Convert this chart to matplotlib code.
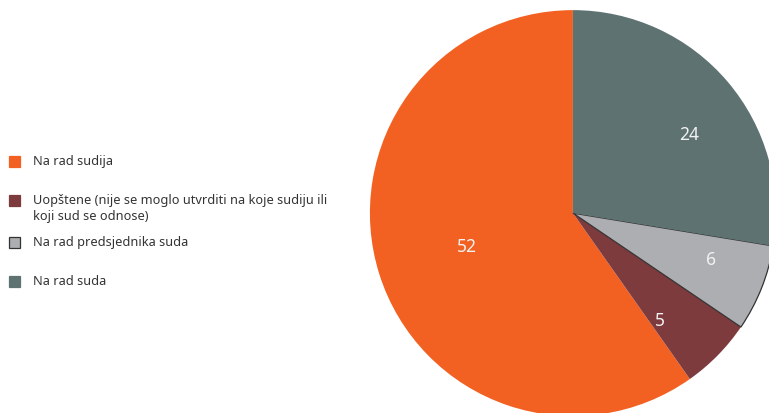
import matplotlib.pyplot as plt
from matplotlib.patches import Rectangle

# data
labels = ['Na rad sudija',
          'Uopštene (nije se moglo utvrditi na koje sudiju ili\nkoji sud se odnose)',
          'Na rad predsjednika suda',
          'Na rad suda']
values = [52, 5, 6, 24]
colors = ['#F26122', '#7E3B3E', '#ADAEB1', '#5F7272']

plt.rcParams['font.family'] = ['Noto Sans', 'DejaVu Sans']

W, H = 769, 413
fig = plt.figure(figsize=(W / 100, H / 100), dpi=100)
ax = fig.add_axes([0.481, -0.0075, 0.528, 0.983])

wedges, texts, autotexts = ax.pie(values, colors=colors, startangle=90, counterclock=True,
                                  autopct=lambda p: '%d' % round(p * sum(values) / 100),
                                  pctdistance=0.7, radius=1,
                                  wedgeprops=dict(linewidth=0))
wedges[2].set_edgecolor('#333333')
wedges[2].set_linewidth(0.9)

# small nudges of the value labels (data units of the pie)
nudge = [(0.0, 0.0), (-0.07, -0.04), (0.03, 0.03), (0.04, -0.07)]
for t, (dx, dy) in zip(autotexts, nudge):
    t.set_color('#f2f2f2')
    t.set_fontsize(12.5)
    t.set_fontweight('light')
    x, y = t.get_position()
    t.set_position((x + dx, y + dy))
# the big slice label sits closer to the centre
x, y = autotexts[0].get_position()
autotexts[0].set_position((x * 0.55 / 0.7, y * 0.55 / 0.7))

ax.set_xlim(-1, 1)
ax.set_ylim(-1, 1)
ax.set_aspect('equal')
ax.axis('off')

# legend drawn by hand so the swatch lines up with the first text line
rows_px = [161, 200, 242, 281]
for lab, c, yp, i in zip(labels, colors, rows_px, range(4)):
    fig.patches.append(Rectangle((8.5 / W, 1 - (yp + 6) / H), 11.5 / W, 11.5 / H,
                                 transform=fig.transFigure, facecolor=c,
                                 edgecolor='#333333' if i == 2 else c, linewidth=0.9))
    fig.text(33 / W, 1 - (yp - 6) / H, lab, fontsize=9.2, color='#333333',
             va='top', ha='left', linespacing=1.3, transform=fig.transFigure)

fig.savefig('out.png', dpi=100)
